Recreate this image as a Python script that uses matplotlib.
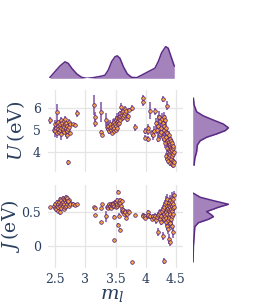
import numpy as np
import matplotlib.pyplot as plt

plt.rcParams["mathtext.fontset"] = "dejavuserif"

# --- data (three groups of compounds) ---
ml = [
    # group around m_l ~ 2.6
    2.41, 2.53, 2.48, 2.49, 2.50, 2.51, 2.52, 2.53, 2.54, 2.55,
    2.55, 2.56, 2.57, 2.58, 2.58, 2.59, 2.60, 2.60, 2.61, 2.62,
    2.62, 2.63, 2.64, 2.64, 2.65, 2.66, 2.66, 2.67, 2.68, 2.68,
    2.69, 2.70, 2.70, 2.71, 2.72, 2.73, 2.74, 2.75, 2.71, 2.80,
    2.82, 2.86,
    # group around m_l ~ 3.5
    3.14, 3.16, 3.16, 3.25, 3.25, 3.28, 3.34, 3.35, 3.37, 3.38,
    3.39, 3.40, 3.41, 3.42, 3.43, 3.44, 3.45, 3.45, 3.46, 3.47,
    3.48, 3.48, 3.49, 3.50, 3.50, 3.51, 3.52, 3.52, 3.53, 3.54,
    3.54, 3.55, 3.56, 3.56, 3.57, 3.58, 3.58, 3.59, 3.60, 3.60,
    3.61, 3.62, 3.63, 3.64, 3.65, 3.66, 3.68, 3.69, 3.70, 3.72,
    3.78, 3.82,
    # group around m_l ~ 4.35
    3.955, 3.96, 3.98, 3.99, 4.03, 4.03, 4.04, 4.07, 4.10, 4.12,
    4.13, 4.155, 4.17, 4.19, 4.20, 4.21, 4.22, 4.23, 4.24, 4.25,
    4.26, 4.27, 4.28, 4.29, 4.29, 4.30, 4.30, 4.31, 4.31, 4.32,
    4.32, 4.33, 4.33, 4.34, 4.34, 4.35, 4.35, 4.35, 4.36, 4.36,
    4.37, 4.37, 4.37, 4.38, 4.38, 4.38, 4.39, 4.39, 4.39, 4.40,
    4.40, 4.40, 4.41, 4.41, 4.41, 4.42, 4.42, 4.42, 4.43, 4.43,
    4.43, 4.44, 4.44, 4.44, 4.45, 4.45, 4.45, 4.46, 4.46, 4.47,
    4.47,
]
U = [
    5.44, 5.82, 5.00, 5.25, 4.95, 5.10, 5.30, 4.85, 5.20, 5.05,
    5.35, 4.90, 5.15, 5.25, 5.00, 5.45, 5.10, 4.80, 5.30, 5.20,
    4.95, 5.05, 5.40, 5.15, 4.90, 5.25, 5.50, 5.00, 5.10, 5.30,
    4.75, 5.20, 4.95, 5.05, 5.35, 5.15, 4.85, 5.25, 3.53, 5.26,
    5.22, 5.76,
    6.15, 5.60, 5.30, 5.80, 4.90, 4.79, 5.47, 5.15, 5.05, 5.20,
    4.95, 5.10, 5.25, 5.00, 5.15, 4.85, 5.30, 5.05, 5.20, 4.95,
    5.35, 5.10, 5.25, 5.00, 5.45, 5.20, 5.35, 5.55, 5.10, 5.40,
    5.25, 5.60, 5.30, 5.50, 5.65, 5.45, 5.75, 6.06, 5.55, 5.70,
    5.80, 5.60, 5.85, 5.70, 5.95, 5.75, 5.85, 5.50, 5.65, 5.90,
    6.00, 5.12,
    6.47, 6.25, 4.95, 4.65, 4.97, 4.59, 5.10, 5.88, 4.85, 4.75,
    4.97, 5.85, 5.30, 5.00, 4.60, 5.20, 5.60, 4.80, 5.40, 5.10,
    4.90, 5.50, 4.70, 6.41, 5.30, 5.00, 5.60, 4.60, 5.20, 4.40,
    5.45, 4.90, 3.80, 4.70, 5.10, 6.10, 4.50, 3.70, 4.85, 4.20,
    4.55, 4.00, 3.60, 4.75, 4.30, 3.90, 4.45, 4.10, 3.75, 4.60,
    4.25, 3.50, 4.35, 4.05, 3.85, 4.50, 4.15, 3.70, 4.30, 3.95,
    3.45, 4.40, 4.10, 3.80, 4.20, 3.90, 3.40, 4.25, 3.60, 4.00,
    3.55,
]
U_err = [
    0.15, 0.35, 0.15, 0.20, 0.25, 0.10, 0.15, 0.20, 0.10, 0.30,
    0.10, 0.15, 0.10, 0.20, 0.10, 0.15, 0.10, 0.25, 0.10, 0.15,
    0.10, 0.20, 0.10, 0.15, 0.10, 0.10, 0.15, 0.30, 0.10, 0.10,
    0.15, 0.10, 0.20, 0.10, 0.15, 0.10, 0.10, 0.10, 0.12, 0.08,
    0.08, 0.15,
    0.45, 0.20, 0.15, 0.45, 0.10, 0.10, 0.30, 0.15, 0.10, 0.20,
    0.15, 0.10, 0.20, 0.10, 0.15, 0.10, 0.20, 0.10, 0.15, 0.10,
    0.20, 0.10, 0.15, 0.10, 0.20, 0.10, 0.15, 0.20, 0.10, 0.15,
    0.10, 0.20, 0.10, 0.15, 0.10, 0.15, 0.10, 0.15, 0.10, 0.15,
    0.10, 0.15, 0.10, 0.10, 0.15, 0.10, 0.10, 0.12, 0.10, 0.10,
    0.15, 0.15,
    0.12, 0.15, 0.15, 0.12, 0.20, 0.15, 0.15, 0.40, 0.15, 0.20,
    0.20, 0.15, 0.25, 0.20, 0.15, 0.50, 0.25, 0.20, 0.30, 0.20,
    0.20, 0.25, 0.20, 0.15, 0.20, 0.25, 0.20, 0.15, 0.25, 0.20,
    0.25, 0.20, 0.15, 0.20, 0.25, 0.20, 0.20, 0.15, 0.20, 0.20,
    0.20, 0.15, 0.15, 0.20, 0.20, 0.15, 0.20, 0.15, 0.15, 0.20,
    0.20, 0.15, 0.20, 0.15, 0.15, 0.20, 0.15, 0.15, 0.20, 0.15,
    0.15, 0.20, 0.15, 0.15, 0.20, 0.15, 0.12, 0.20, 0.15, 0.15,
    0.12,
]
J = [
    0.58, 0.62, 0.60, 0.57, 0.63, 0.55, 0.60, 0.65, 0.52, 0.62,
    0.58, 0.66, 0.60, 0.70, 0.50, 0.63, 0.68, 0.57, 0.64, 0.72,
    0.60, 0.66, 0.55, 0.70, 0.62, 0.68, 0.58, 0.73, 0.65, 0.60,
    0.69, 0.63, 0.71, 0.66, 0.60, 0.68, 0.64, 0.62, 0.67, 0.63,
    0.61, 0.62,
    0.58, 0.455, 0.57, 0.565, 0.35, 0.62, 0.44, 0.58, 0.60, 0.56,
    0.62, 0.58, 0.60, 0.63, 0.57, 0.61, 0.64, 0.59, 0.62, 0.43,
    0.60, 0.08, 0.65, 0.58, 0.62, 0.66, 0.60, 0.63, 0.68, 0.80,
    0.31, 0.62, 0.45, 0.66, 0.69, 0.24, 0.64, 0.60, 0.52, 0.67,
    0.55, 0.50, 0.54, 0.48, 0.52, 0.50, 0.42, 0.47, 0.52, 0.50,
    -0.245, 0.455,
    0.455, 0.44, 0.45, 0.42, 0.50, 0.44, 0.46, 0.44, 0.40, 0.44,
    0.42, 0.45, 0.38, 0.43, 0.46, 0.21, 0.48, 0.40, 0.50, 0.44,
    0.36, 0.52, 0.42, 0.14, 0.55, 0.47, -0.23, 0.40, 0.58, 0.45,
    0.62, 0.35, 0.50, 0.66, 0.42, 0.55, 0.30, 0.60, 0.48, 0.70,
    0.38, 0.56, 0.25, 0.64, 0.45, 0.52, 0.60, 0.10, 0.42, 0.68,
    0.50, 0.34, 0.58, 0.05, 0.47, 0.62, 0.40, 0.55, 0.72, 0.30,
    0.52, 0.60, 0.45, 0.66, 0.20, 0.56, 0.70, 0.48, 0.62, 0.76,
    0.58,
]
J_err = [
    0.02, 0.03, 0.03, 0.02, 0.03, 0.04, 0.02, 0.03, 0.03, 0.02,
    0.03, 0.02, 0.03, 0.03, 0.04, 0.02, 0.03, 0.03, 0.02, 0.03,
    0.03, 0.02, 0.03, 0.03, 0.02, 0.03, 0.02, 0.03, 0.03, 0.02,
    0.03, 0.02, 0.03, 0.02, 0.03, 0.03, 0.02, 0.02, 0.03, 0.02,
    0.02, 0.02,
    0.02, 0.02, 0.02, 0.02, 0.02, 0.02, 0.08, 0.02, 0.02, 0.03,
    0.02, 0.03, 0.02, 0.03, 0.02, 0.03, 0.02, 0.03, 0.02, 0.03,
    0.02, 0.02, 0.03, 0.02, 0.03, 0.02, 0.03, 0.02, 0.03, 0.03,
    0.03, 0.02, 0.04, 0.02, 0.03, 0.02, 0.02, 0.03, 0.02, 0.03,
    0.02, 0.03, 0.02, 0.03, 0.02, 0.03, 0.02, 0.03, 0.02, 0.02,
    0.02, 0.02,
    0.03, 0.03, 0.03, 0.03, 0.04, 0.03, 0.03, 0.04, 0.03, 0.04,
    0.03, 0.04, 0.05, 0.04, 0.04, 0.06, 0.05, 0.04, 0.05, 0.05,
    0.05, 0.06, 0.05, 0.06, 0.06, 0.05, 0.05, 0.06, 0.07, 0.05,
    0.07, 0.06, 0.06, 0.08, 0.05, 0.07, 0.06, 0.07, 0.05, 0.08,
    0.06, 0.07, 0.08, 0.07, 0.05, 0.06, 0.08, 0.07, 0.05, 0.08,
    0.06, 0.07, 0.07, 0.06, 0.05, 0.08, 0.06, 0.07, 0.08, 0.07,
    0.06, 0.08, 0.06, 0.07, 0.08, 0.06, 0.08, 0.06, 0.07, 0.06,
    0.06,
]

# marginal density curves (relative height)
top_x = [2.412, 2.495, 2.578, 2.661, 2.716, 2.772, 2.855, 2.938, 3.021, 3.13,
         3.27, 3.324, 3.379, 3.435, 3.49, 3.528, 3.573, 3.628, 3.694, 3.767,
         3.85, 3.933, 4.042, 4.153, 4.208, 4.264, 4.33, 4.373, 4.43, 4.473]
top_d = [0.03, 0.21, 0.39, 0.52, 0.47, 0.32, 0.14, 0.03, 0.0, 0.02,
         0.07, 0.10, 0.26, 0.53, 0.68, 0.71, 0.63, 0.37, 0.14, 0.03,
         0.02, 0.10, 0.21, 0.32, 0.53, 0.81, 1.0, 0.95, 0.63, 0.39]
U_kde_y = [6.44, 6.14, 5.83, 5.64, 5.45, 5.27, 5.10, 4.97, 4.82, 4.67,
           4.51, 4.32, 4.01, 3.71, 3.41]
U_kde_d = [0.02, 0.04, 0.11, 0.30, 0.58, 0.86, 1.0, 0.91, 0.67, 0.39,
           0.21, 0.13, 0.11, 0.06, 0.04]
J_kde_y = [0.784, 0.725, 0.674, 0.62, 0.575, 0.51, 0.46, 0.434, 0.395, 0.344,
           0.285, 0.135, -0.015, -0.24]
J_kde_d = [0.02, 0.21, 0.58, 1.0, 0.72, 0.39, 0.53, 0.58, 0.44, 0.16,
           0.06, 0.04, 0.02, 0.01]

text_color = "#2a3f5f"
fill_color = "#a483bd"
line_color = "#5b2a86"
grid_color = "#e5e5e5"

W, H = 266, 306
fig = plt.figure(figsize=(W / 100, H / 100), dpi=100)


def box(l, t, r, b):
    # pixel box -> figure fraction
    return [l / W, 1 - b / H, (r - l) / W, (b - t) / H]


ax_top = fig.add_axes(box(48, 40, 183, 78.3))
ax_u = fig.add_axes(box(48, 90, 183, 172))
ax_j = fig.add_axes(box(48, 184.5, 183, 268))
ax_ur = fig.add_axes(box(192.7, 90, 238, 172))
ax_jr = fig.add_axes(box(192.7, 184.5, 238, 268))

xlim = (2.379, 4.618)

# scatter panels with error bars
for ax, y, yerr in [(ax_u, U, U_err), (ax_j, J, J_err)]:
    ax.errorbar(ml, y, yerr=yerr, fmt="o", ms=2.6, mfc="#f7a33f", mec="#4a1a78",
                mew=0.5, ecolor="#7e52a4", elinewidth=1.1, capsize=0, zorder=3)
    ax.set_xlim(xlim)
    ax.set_xticks([2.5, 3, 3.5, 4, 4.5])
    ax.grid(color=grid_color, linewidth=0.9)
    ax.set_axisbelow(True)
    for s in ax.spines.values():
        s.set_visible(False)
    ax.tick_params(length=0, colors=text_color, labelsize=9, pad=5)

ax_u.set_ylim(3.09, 6.818)
ax_u.set_yticks([4, 5, 6])
ax_u.tick_params(labelbottom=False)
ax_u.set_ylabel(r"$U\,(\mathrm{eV})$", fontsize=14, color=text_color, va="center")
ax_u.yaxis.set_label_coords((16 - 48) / 135, 0.5)

ax_j.set_ylim(-0.334, 0.916)
ax_j.set_yticks([0, 0.5])
ax_j.set_yticklabels(["0", "0.5"])
ax_j.set_xticklabels(["2.5", "3", "3.5", "4", "4.5"])
ax_j.tick_params(axis="x", pad=3.5)
ax_j.set_ylabel(r"$J\,(\mathrm{eV})$", fontsize=13.5, color=text_color, va="center")
ax_j.yaxis.set_label_coords((10 - 48) / 135, 0.5)
ax_j.set_xlabel(r"$m_l$", fontsize=14, color=text_color, va="center")
ax_j.xaxis.set_label_coords((112 - 48) / 135, -(294 - 268) / 83.5)
for lab in ax_j.get_xticklabels() + ax_j.get_yticklabels() + ax_u.get_yticklabels():
    lab.set_fontfamily("DejaVu Serif")

# marginal densities
ax_top.fill_between(top_x, 0, top_d, color=fill_color, lw=0)
ax_top.plot(top_x, top_d, color=line_color, lw=1.1)
ax_top.set_xlim(xlim)
ax_top.set_ylim(0, 1.21)

for ax, yy, dd, lim in [(ax_ur, U_kde_y, U_kde_d, ax_u.get_ylim()),
                        (ax_jr, J_kde_y, J_kde_d, ax_j.get_ylim())]:
    ax.fill_betweenx(yy, 0, dd, color=fill_color, lw=0)
    ax.plot(dd, yy, color=line_color, lw=1.1)
    ax.set_ylim(lim)
    ax.set_xlim(0, 1.27)

for ax in [ax_top, ax_ur, ax_jr]:
    ax.axis("off")

plt.savefig("out.png", dpi=100)
